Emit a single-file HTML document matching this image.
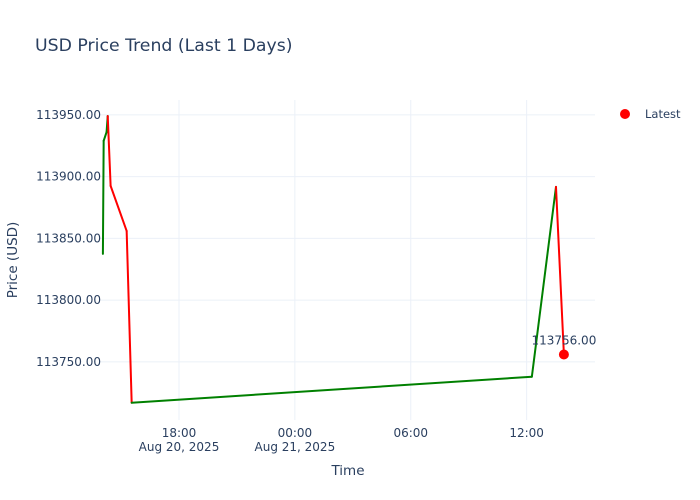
<!DOCTYPE html>
<html><head><meta charset="utf-8">
<style>
html,body{margin:0;padding:0;background:#fff;}
svg{display:block;font-family:"DejaVu Sans","Liberation Sans",sans-serif;}
</style></head>
<body>
<svg id="chart" width="700" height="500" viewBox="0 0 700 500">
  <rect width="700" height="500" fill="#fff"/>
  <text x="35" y="51" font-size="17.3" fill="#2a3f5f">USD Price Trend (Last 1 Days)</text>
  <g id="grid"></g>
  <g id="series"></g>
  <g id="axes"></g>
  <text x="348" y="475" font-size="13.5" fill="#2a3f5f" text-anchor="middle">Time</text>
  <text transform="translate(17,260) rotate(-90)" font-size="13.5" fill="#2a3f5f" text-anchor="middle">Price (USD)</text>
  <g>
    <circle cx="625" cy="114" r="5" fill="#ff0000"/>
    <text x="645" y="118" font-size="11.5" fill="#2a3f5f">Latest</text>
  </g>
  <defs><clipPath id="clip"><rect x="100" y="100" width="497" height="320"/></clipPath></defs>
</svg>
<script>
// data: hours relative to 2025-08-20 18:00
const times = [-3.94, -3.9, -3.75, -3.69, -3.54, -2.71, -2.45, 18.27, 19.52, 19.93];
const prices = [113837.5, 113929, 113936, 113949, 113892.5, 113856, 113717, 113738, 113891.7, 113756];
const yTicks = [113750, 113800, 113850, 113900, 113950];
const xTicks = [0, 6, 12, 18];
const xTickLabels = [["18:00","Aug 20, 2025"],["00:00","Aug 21, 2025"],["06:00",""],["12:00",""]];
const latestLabel = "113756.00";

const X0 = 100, X1 = 595, Y0 = 100, Y1 = 420;
const tMin = -4.09, tMax = 21.54, pMin = 113703, pMax = 113962;
const xs = t => X0 + (t - tMin) / (tMax - tMin) * (X1 - X0);
const ys = p => Y1 - (p - pMin) / (pMax - pMin) * (Y1 - Y0);
const NS = "http://www.w3.org/2000/svg";
const mk = (tag, attrs, parent) => { const e = document.createElementNS(NS, tag); for (const k in attrs) e.setAttribute(k, attrs[k]); parent.appendChild(e); return e; };
const grid = document.getElementById('grid'), axes = document.getElementById('axes'), series = document.getElementById('series');

yTicks.forEach(v => {
  const l = mk('line', {x1: X0, x2: X1, y1: ys(v), y2: ys(v), stroke: '#ebf0f8', 'stroke-width': 1}, grid);
  
  
  const t = mk('text', {x: X0 + 1, y: ys(v) + 4, 'font-size': 12, fill: '#2a3f5f', 'text-anchor': 'end'}, axes);
  t.textContent = v.toFixed(2);
  
  
});
xTicks.forEach((h, i) => {
  const l = mk('line', {x1: xs(h), x2: xs(h), y1: Y0, y2: Y1, stroke: '#ebf0f8', 'stroke-width': 1}, grid);
  
  
  const t = mk('text', {x: xs(h), y: 437, 'font-size': 12, fill: '#2a3f5f', 'text-anchor': 'middle'}, axes);
  t.textContent = xTickLabels[i][0];
  
  
  if (xTickLabels[i][1]) {
    const t2 = mk('text', {x: xs(h), y: 451, 'font-size': 12, fill: '#2a3f5f', 'text-anchor': 'middle'}, axes);
    t2.textContent = xTickLabels[i][1];
    
    
  }
});
for (let i = 1; i < times.length; i++) {
  const up = prices[i] >= prices[i-1];
  const l = mk('line', {x1: xs(times[i-1]), y1: ys(prices[i-1]), x2: xs(times[i]), y2: ys(prices[i]), stroke: up ? '#008000' : '#ff0000', 'stroke-width': 2, 'stroke-linecap': 'round'}, series);
  
  
}
const n = times.length - 1;
const c = mk('circle', {cx: xs(times[n]), cy: ys(prices[n]), r: 5, fill: '#ff0000'}, series);


const lab = mk('text', {x: xs(times[n]), y: ys(prices[n]) - 10, 'font-size': 12, fill: '#2a3f5f', 'text-anchor': 'middle', 'clip-path': 'url(#clip)'}, series);
lab.textContent = latestLabel;


</script>
</body></html>
